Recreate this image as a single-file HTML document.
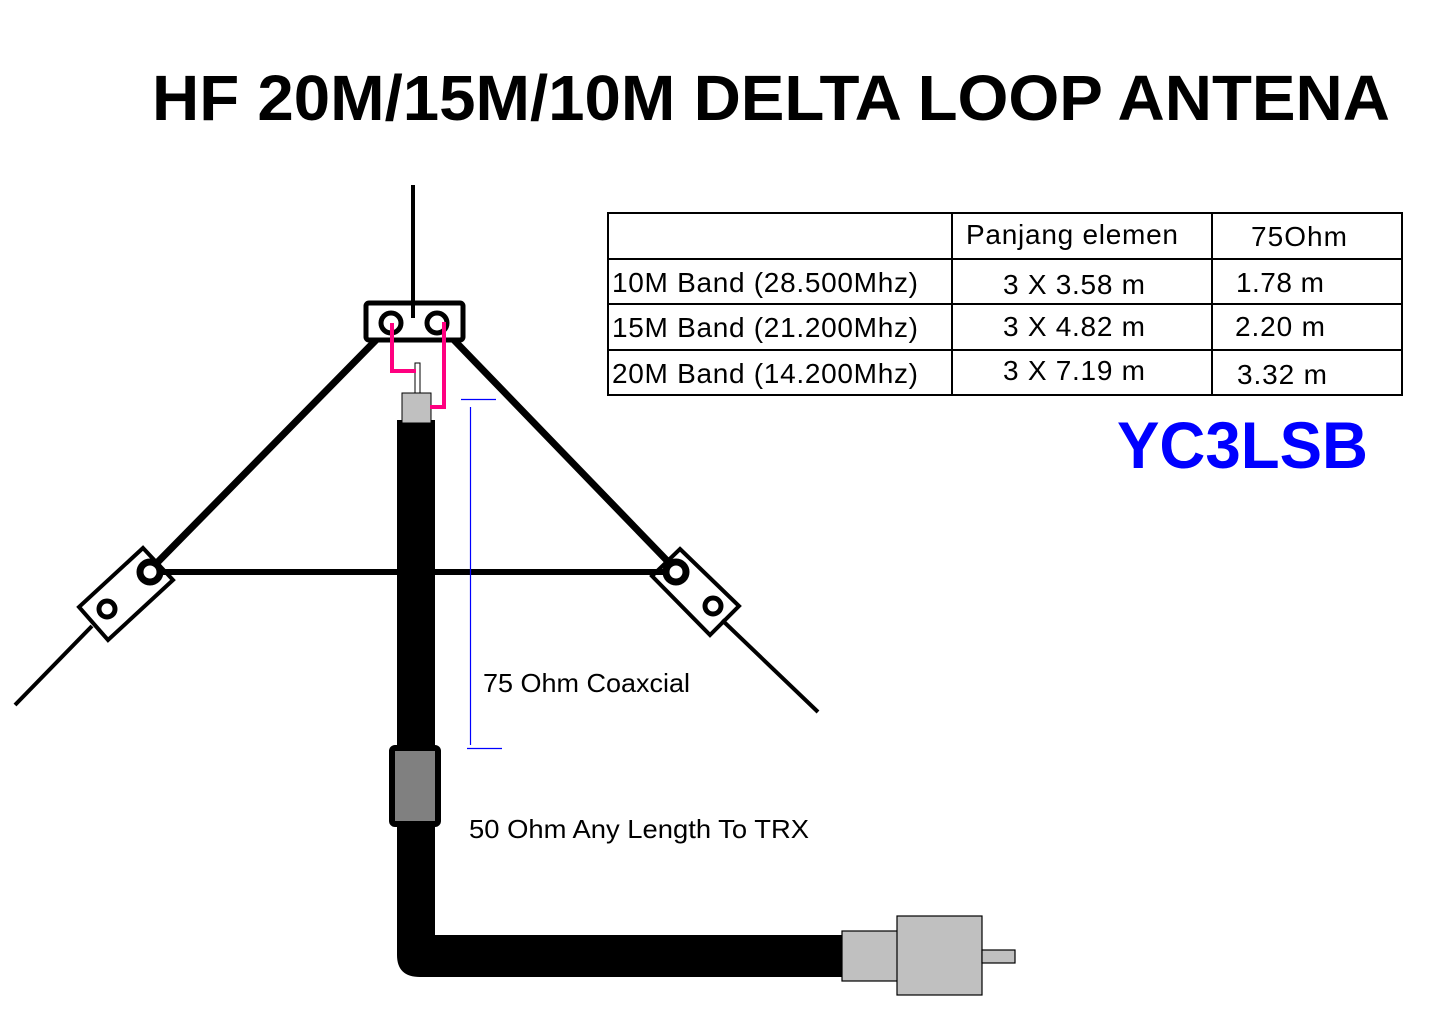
<!DOCTYPE html>
<html><head><meta charset="utf-8"><style>html,body{margin:0;padding:0;background:#fff;}svg{display:block}</style></head>
<body>
<svg width="1437" height="1014" viewBox="0 0 1437 1014" xmlns="http://www.w3.org/2000/svg" font-family="Liberation Sans, Arial, sans-serif">
<rect width="1437" height="1014" fill="#fff"/>
<text x="152" y="120" font-size="64" font-weight="bold" textLength="1238" lengthAdjust="spacingAndGlyphs">HF 20M/15M/10M DELTA LOOP ANTENA</text>
<line x1="413" y1="185" x2="413" y2="318" stroke="#000" stroke-width="4"/>
<line x1="378" y1="338" x2="148" y2="572" stroke="#000" stroke-width="7"/>
<line x1="452" y1="338" x2="678" y2="572" stroke="#000" stroke-width="7"/>
<line x1="150" y1="572" x2="676" y2="572" stroke="#000" stroke-width="6"/>
<rect x="366" y="303" width="97" height="37" rx="3" fill="#fff" stroke="#000" stroke-width="5"/>
<line x1="413" y1="290" x2="413" y2="318" stroke="#000" stroke-width="4"/>
<circle cx="391" cy="323" r="10" fill="#fff" stroke="#000" stroke-width="5"/>
<circle cx="437" cy="323" r="10" fill="#fff" stroke="#000" stroke-width="5"/>
<polygon points="143,548 173,580 108,640 79,607" fill="none" stroke="#000" stroke-width="4"/>
<circle cx="150" cy="572" r="10" fill="#fff" stroke="#000" stroke-width="7"/>
<circle cx="107" cy="609" r="8" fill="#fff" stroke="#000" stroke-width="5"/>
<line x1="92" y1="626" x2="15" y2="705" stroke="#000" stroke-width="4"/>
<polygon points="680,549 739,606 710,635 652,576" fill="none" stroke="#000" stroke-width="4"/>
<circle cx="676" cy="572" r="10" fill="#fff" stroke="#000" stroke-width="7"/>
<circle cx="713" cy="606" r="8" fill="#fff" stroke="#000" stroke-width="5"/>
<line x1="722" y1="620" x2="818" y2="712" stroke="#000" stroke-width="4"/>
<path d="M397 420 H435 V935 H845 V977 H420 Q397 977 397 955 Z" fill="#000"/>
<rect x="392" y="748" width="46" height="76" rx="3" fill="#808080" stroke="#000" stroke-width="6"/>
<rect x="415" y="363" width="5" height="32" fill="#fff" stroke="#000" stroke-width="1"/>
<rect x="402" y="393" width="29" height="30" fill="#c0c0c0" stroke="#000" stroke-width="1"/>
<polyline points="392,323 392,371 416,371" fill="none" stroke="#ff0080" stroke-width="4"/>
<polyline points="444,322 444,407 430,407" fill="none" stroke="#ff0080" stroke-width="4"/>
<line x1="461" y1="399.5" x2="496" y2="399.5" stroke="#0000ff" stroke-width="1.2"/>
<line x1="470.5" y1="407" x2="470.5" y2="745" stroke="#0000ff" stroke-width="1.2"/>
<line x1="467" y1="748.5" x2="502" y2="748.5" stroke="#0000ff" stroke-width="1.2"/>
<rect x="842" y="931" width="56" height="50" fill="#c0c0c0" stroke="#000" stroke-width="1.2"/>
<rect x="897" y="916" width="85" height="79" fill="#c0c0c0" stroke="#000" stroke-width="1.2"/>
<rect x="982" y="950" width="33" height="13" fill="#c0c0c0" stroke="#000" stroke-width="1.2"/>
<text x="483" y="692" font-size="26" textLength="207" lengthAdjust="spacingAndGlyphs">75 Ohm Coaxcial</text>
<text x="469" y="838" font-size="26" textLength="340" lengthAdjust="spacingAndGlyphs">50 Ohm Any Length To TRX</text>
<g stroke="#000" stroke-width="2" fill="none">
<rect x="608" y="213" width="794" height="182"/>
<line x1="608" y1="259" x2="1402" y2="259"/>
<line x1="608" y1="304" x2="1402" y2="304"/>
<line x1="608" y1="350" x2="1402" y2="350"/>
<line x1="952" y1="213" x2="952" y2="395"/>
<line x1="1212" y1="213" x2="1212" y2="395"/>
</g>
<g font-size="28" lengthAdjust="spacingAndGlyphs">
<text x="966" y="244" textLength="212">Panjang elemen</text>
<text x="1251" y="246" textLength="96">75Ohm</text>
<text x="612" y="292" textLength="306">10M Band (28.500Mhz)</text>
<text x="1003" y="294" textLength="142">3 X 3.58 m</text>
<text x="1236" y="292" textLength="88">1.78 m</text>
<text x="612" y="337" textLength="306">15M Band (21.200Mhz)</text>
<text x="1003" y="336" textLength="142">3 X 4.82 m</text>
<text x="1235" y="336" textLength="90">2.20 m</text>
<text x="612" y="383" textLength="306">20M Band (14.200Mhz)</text>
<text x="1003" y="380" textLength="142">3 X 7.19 m</text>
<text x="1237" y="384" textLength="90">3.32 m</text>
</g>
<text x="1117" y="468" font-size="66" font-weight="bold" fill="#0000ff" textLength="251" lengthAdjust="spacingAndGlyphs">YC3LSB</text>
</svg>
</body></html>
